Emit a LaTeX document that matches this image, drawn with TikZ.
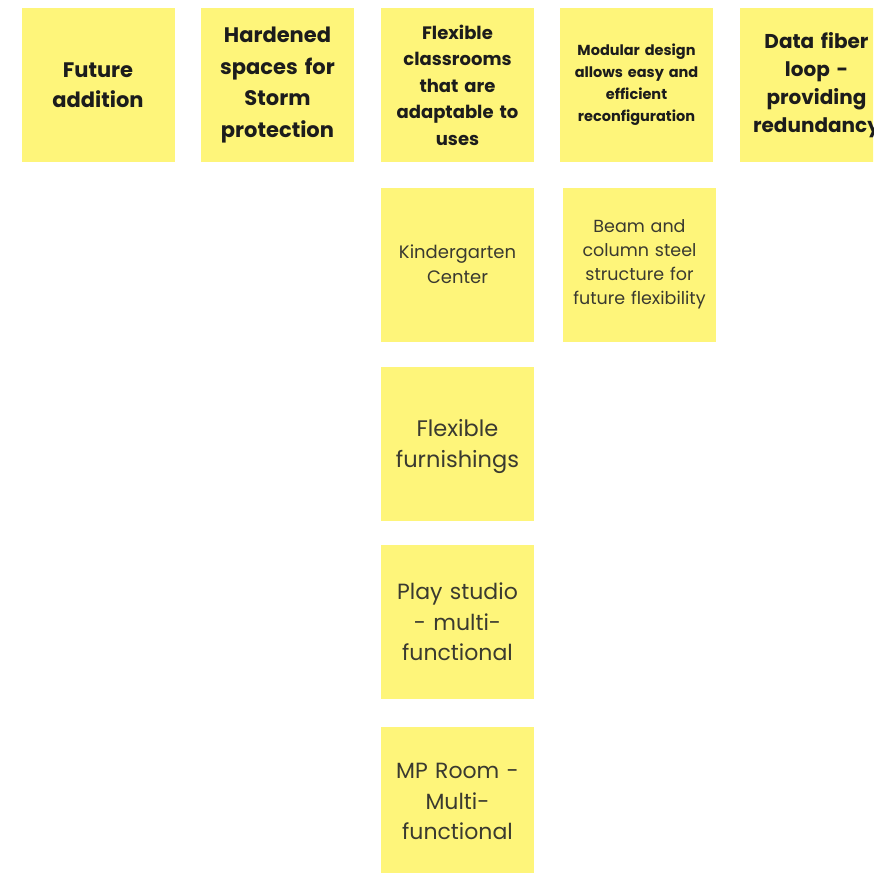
\documentclass[tikz,border=0pt]{standalone}
\usepackage{fontspec}
\setmainfont{Poppins}
\definecolor{sticky}{HTML}{FEF57A}
\definecolor{inkbold}{HTML}{1C1C1C}
\definecolor{inknorm}{HTML}{3A3A30}
\newcommand{\fs}[2]{\fontsize{#1}{#2}\selectfont}
\tikzset{
  note/.style={fill=sticky, draw=none, minimum width=153pt, minimum height=154pt,
    inner sep=0pt, align=center, text width=150pt},
  headnote/.style={note, text=inkbold},
  bodynote/.style={note, text=inknorm},
  looselabel/.style={inner sep=0pt, align=center, text width=150pt, text=inknorm},
}
\begin{document}
\begin{tikzpicture}[x=1pt,y=-1pt]
\useasboundingbox (0,0) rectangle (873,873);
\clip (0,0) rectangle (873,873);
\fill[white] (0,0) rectangle (873,873);
\node[headnote, font=\fs{21}{30}\bfseries] (future) at (98,85) {Future\\addition};
\node[headnote, font=\fs{21}{31.5}\bfseries] (hardened) at (277.5,85) {Hardened\\spaces for\\Storm\\protection};
\node[headnote, font=\fs{18}{26.5}\bfseries] (flexclass) at (457.5,85) {Flexible\\classrooms\\that are\\adaptable to\\uses};
\node[headnote, font=\fs{14.5}{22}\bfseries] (modular) at (636.5,85) {Modular design\\allows easy and\\efficient\\reconfiguration};
\node[headnote, font=\fs{20}{28}\bfseries] (fiber) at (816.5,85) {Data fiber\\loop -\\providing\\redundancy};
\node[bodynote, font=\fs{18}{25}] (kinder) at (457.5,264.5) {Kindergarten\\Center};
\node[bodynote, font=\fs{17.5}{24}] (beam) at (639.5,264.5) {Beam and\\column steel\\structure for\\future flexibility};
\node[bodynote] (furnish) at (457.5,443.5) {};
\node[looselabel, font=\fs{22.5}{31}] (furnishtext) at ([yshift=-3pt]furnish.center) {Flexible\\furnishings};
\node[bodynote, font=\fs{22}{30.5}] (play) at (457.5,622) {Play studio\\- multi-\\functional};
\node[bodynote] (mp) at (457.5,804) {};
\node[looselabel, font=\fs{22}{30.5}] (mptext) at ([yshift=2.5pt]mp.center) {MP Room -\\Multi-\\functional};
\end{tikzpicture}
\end{document}
